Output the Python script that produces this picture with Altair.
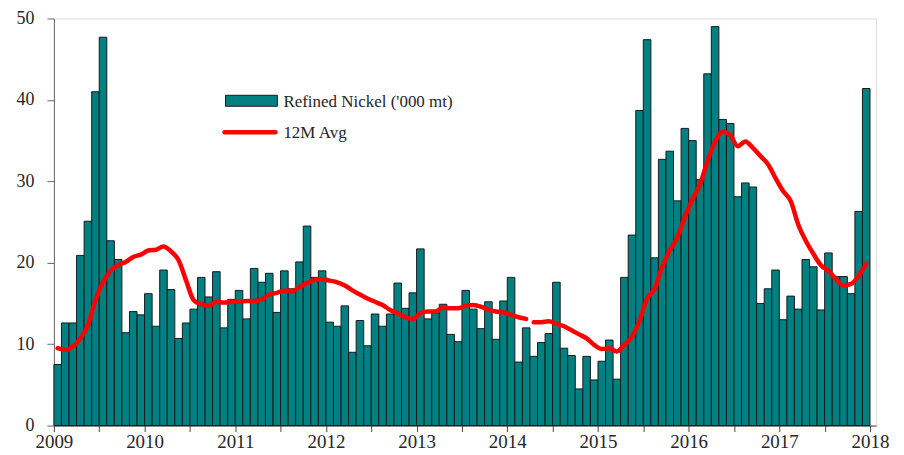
import altair as alt
import pandas as pd

years = [2009, 2010, 2011, 2012, 2013, 2014, 2015, 2016, 2017, 2018]

refined_nickel = [
    7.5, 12.6, 12.6, 20.9, 25.1, 41.0, 47.7, 22.7, 20.4, 11.4, 14.0, 13.6,
    16.2, 12.2, 19.1, 16.7, 10.7, 12.6, 14.3, 18.2, 15.8, 18.9, 12.0, 15.5,
    16.6, 13.1, 19.3, 17.6, 18.7, 13.9, 19.0, 16.8, 20.1, 24.5, 18.2, 19.0,
    12.7, 12.2, 14.7, 9.0, 12.9, 9.8, 13.7, 12.2, 13.7, 17.5, 14.4, 16.3,
    21.7, 13.1, 13.8, 14.9, 11.2, 10.3, 16.6, 14.3, 11.9, 15.2, 10.6, 15.3,
    18.2, 7.8, 12.0, 8.5, 10.2, 11.3, 17.6, 9.5, 8.6, 4.5, 8.5, 5.6,
    7.9, 10.5, 5.7, 18.2, 23.4, 38.7, 47.4, 20.6, 32.7, 33.7, 27.6, 36.5,
    35.0, 30.2, 43.2, 49.0, 37.6, 37.1, 28.1, 29.8, 29.3, 15.0, 16.8, 19.1,
    13.0, 15.9, 14.3, 20.4, 19.5, 14.2, 21.2, 18.3, 18.3, 16.2, 26.3, 41.4,
]

avg_12m = [
    9.5, 9.3, 9.7, 10.7, 12.3, 15.4, 17.6, 19.0, 19.7, 20.1, 20.7, 21.0,
    21.5, 21.6, 22.0, 21.4, 20.3, 17.8, 15.4, 14.9, 14.7, 15.2, 15.1, 15.2,
    15.2, 15.3, 15.3, 15.5, 16.1, 16.3, 16.6, 16.5, 17.0, 17.5, 17.9, 18.0,
    17.8, 17.6, 17.2, 16.6, 16.1, 15.6, 15.2, 14.8, 14.2, 13.8, 13.3, 13.1,
    13.8, 14.0, 14.0, 14.5, 14.4, 14.4, 14.7, 14.8, 14.6, 14.2, 14.0, 13.9,
    13.6, 13.3, 13.1, 12.7, 12.7, 12.8, 12.5, 12.2, 11.7, 11.2, 10.7, 9.9,
    9.4, 9.5, 9.1, 9.9, 10.9, 12.9, 15.6, 16.8, 19.5, 21.5, 23.1, 25.6,
    27.8, 29.6, 32.5, 34.9, 36.1, 35.7, 34.3, 34.9, 34.1, 33.1, 32.1, 30.4,
    28.8, 27.6, 24.7, 22.7, 21.1, 19.7, 19.0, 18.0, 17.2, 17.4, 18.4, 19.9,
]

# the average line has a small break between Mar and Apr 2014
break_index = 63

n = len(refined_nickel)
bars_df = pd.DataFrame({
    "x0": list(range(n)),
    "x1": [i + 1 for i in range(n)],
    "value": refined_nickel,
})
line_df = pd.DataFrame({
    "t": [i + 0.5 for i in range(n)],
    "avg": avg_12m,
    "seg": ["a" if i < break_index else "b" for i in range(n)],
})

FONT = "Liberation Serif, Times New Roman, DejaVu Serif, serif"
TXT = "#262626"

xscale = alt.Scale(domain=[0, 108.8], nice=False, zero=False)
yscale = alt.Scale(domain=[0, 50], nice=False)

tick_vals = list(range(0, 109, 6))

bars = alt.Chart(bars_df).mark_bar(
    fill="#008080", stroke="#1a1a1a", strokeWidth=1
).encode(
    x=alt.X("x0:Q", scale=xscale, axis=alt.Axis(
        values=tick_vals, title=None, grid=False,
        labelExpr="datum.value % 12 == 0 ? toString(2009 + datum.value / 12) : ''",
        labelFont=FONT, labelFontSize=19, labelColor=TXT,
        tickSize=6, tickColor="#444", domainColor="#444",
        labelPadding=1, labelFlush=False, labelOverlap=False,
    )),
    x2="x1:Q",
    y=alt.Y("value:Q", scale=yscale, axis=alt.Axis(
        values=[0, 10, 20, 30, 40, 50], title=None, grid=False,
        labelFont=FONT, labelFontSize=18, labelColor=TXT,
        tickSize=7, tickColor="#666", domainColor="#666",
        labelPadding=13,
    )),
    y2=alt.datum(0),
)

line = alt.Chart(line_df).mark_line(
    color="#ff0000", strokeWidth=4.5, strokeCap="round", strokeJoin="round",
    interpolate="monotone",
).encode(
    x=alt.X("t:Q", scale=xscale),
    y=alt.Y("avg:Q", scale=yscale),
    detail="seg:N",
)

one = pd.DataFrame({"k": [0]})

leg_rect = alt.Chart(one).mark_rect(
    fill="#008080", stroke="#1a1a1a", strokeWidth=1
).encode(
    x=alt.value(172), x2=alt.value(224), y=alt.value(77), y2=alt.value(88)
)
leg_line = alt.Chart(one).mark_rule(
    color="#ff0000", strokeWidth=4.5, strokeCap="round"
).encode(
    x=alt.value(171), x2=alt.value(222), y=alt.value(114)
)
leg_t1 = alt.Chart(one).mark_text(
    text="Refined Nickel ('000 mt)", font=FONT, fontSize=17, color=TXT,
    align="left", baseline="alphabetic"
).encode(x=alt.value(230), y=alt.value(89))
leg_t2 = alt.Chart(one).mark_text(
    text="12M Avg", font=FONT, fontSize=17, color=TXT,
    align="left", baseline="alphabetic"
).encode(x=alt.value(230), y=alt.value(120))

chart = alt.layer(bars, line, leg_rect, leg_line, leg_t1, leg_t2).properties(
    width=824, height=408,
    autosize=alt.AutoSizeParams(type="none"),
    padding={"left": 46, "top": 10, "right": 20, "bottom": 28},
).configure_view(stroke=None).configure(background="white")

chart.save("out.html", embed_options={"renderer": "svg", "actions": False})
